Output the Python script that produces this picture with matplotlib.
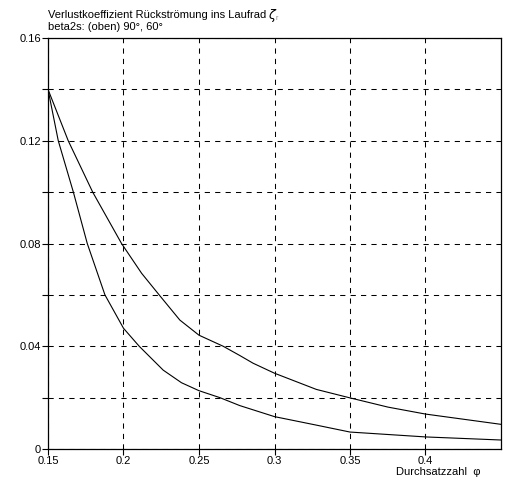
import matplotlib
matplotlib.use("Agg")
import matplotlib.pyplot as plt

# Durchsatzzahl phi and loss coefficient, beta2s = 90 deg (upper curve)
phi_90 = [0.15, 0.1634, 0.1796, 0.1987, 0.212, 0.2236, 0.2373, 0.25, 0.266,
          0.277, 0.2858, 0.30, 0.3277, 0.3493, 0.3752, 0.40, 0.45]
zeta_90 = [0.140, 0.120, 0.100, 0.080, 0.0684, 0.060, 0.0502, 0.0443, 0.040,
           0.0364, 0.0334, 0.0295, 0.0232, 0.020, 0.0163, 0.0136, 0.0096]

# beta2s = 60 deg (lower curve)
phi_60 = [0.15, 0.1568, 0.1668, 0.176, 0.1877, 0.20, 0.2104, 0.2263, 0.2384,
          0.25, 0.2638, 0.277, 0.30, 0.3277, 0.35, 0.40, 0.45]
zeta_60 = [0.140, 0.120, 0.100, 0.080, 0.060, 0.047, 0.040, 0.0307, 0.0258,
           0.0227, 0.020, 0.0169, 0.0126, 0.0093, 0.0066, 0.0047, 0.0035]

x_ticks = [0.15, 0.2, 0.25, 0.3, 0.35, 0.4]
x_labels = ["0.15", "0.2", "0.25", "0.3", "0.35", "0.4"]
y_ticks = [0, 0.02, 0.04, 0.06, 0.08, 0.10, 0.12, 0.14, 0.16]
y_labels = ["0", "", "0.04", "", "0.08", "", "0.12", "", "0.16"]

plt.rcParams['font.family'] = ['Liberation Sans', 'DejaVu Sans']

fig = plt.figure(figsize=(5.16, 4.83), dpi=100)
ax = fig.add_axes([48 / 516, 1 - 449 / 483, (501 - 48) / 516, (449 - 38) / 483])

ax.plot(phi_90, zeta_90, color='black', lw=0.8)
ax.plot(phi_60, zeta_60, color='black', lw=0.8)

ax.set_xlim(0.15, 0.45)
ax.set_ylim(0, 0.16)
ax.set_xticks(x_ticks)
ax.set_xticklabels(x_labels)
ax.set_yticks(y_ticks)
ax.set_yticklabels(y_labels)
ax.tick_params(direction='out', length=4, width=0.8, labelsize=8, pad=1, colors='black')

ax.grid(True, color='black', linestyle=(0, (5, 5)), linewidth=0.75)
for s in ax.spines.values():
    s.set_linewidth(0.9)
    s.set_color('black')

# header texts
fig.text(48 / 516, 1 - 15 / 483, "Verlustkoeffizient Rückströmung ins Laufrad",
         fontsize=8, va='center', ha='left')
fig.text(268 / 516, 1 - 15 / 483, r"$\zeta$", fontsize=9, va='center', ha='left')
fig.text(276 / 516, 1 - 19 / 483, "r", fontsize=5, va='center', ha='left', color='0.5')
fig.text(48 / 516, 1 - 27 / 483, "beta2s: (oben) 90°, 60°",
         fontsize=8, va='center', ha='left')
fig.text(396 / 516, 1 - 472 / 483, "Durchsatzzahl  φ", fontsize=8, va='center', ha='left')

fig.savefig("out.png", dpi=100)
